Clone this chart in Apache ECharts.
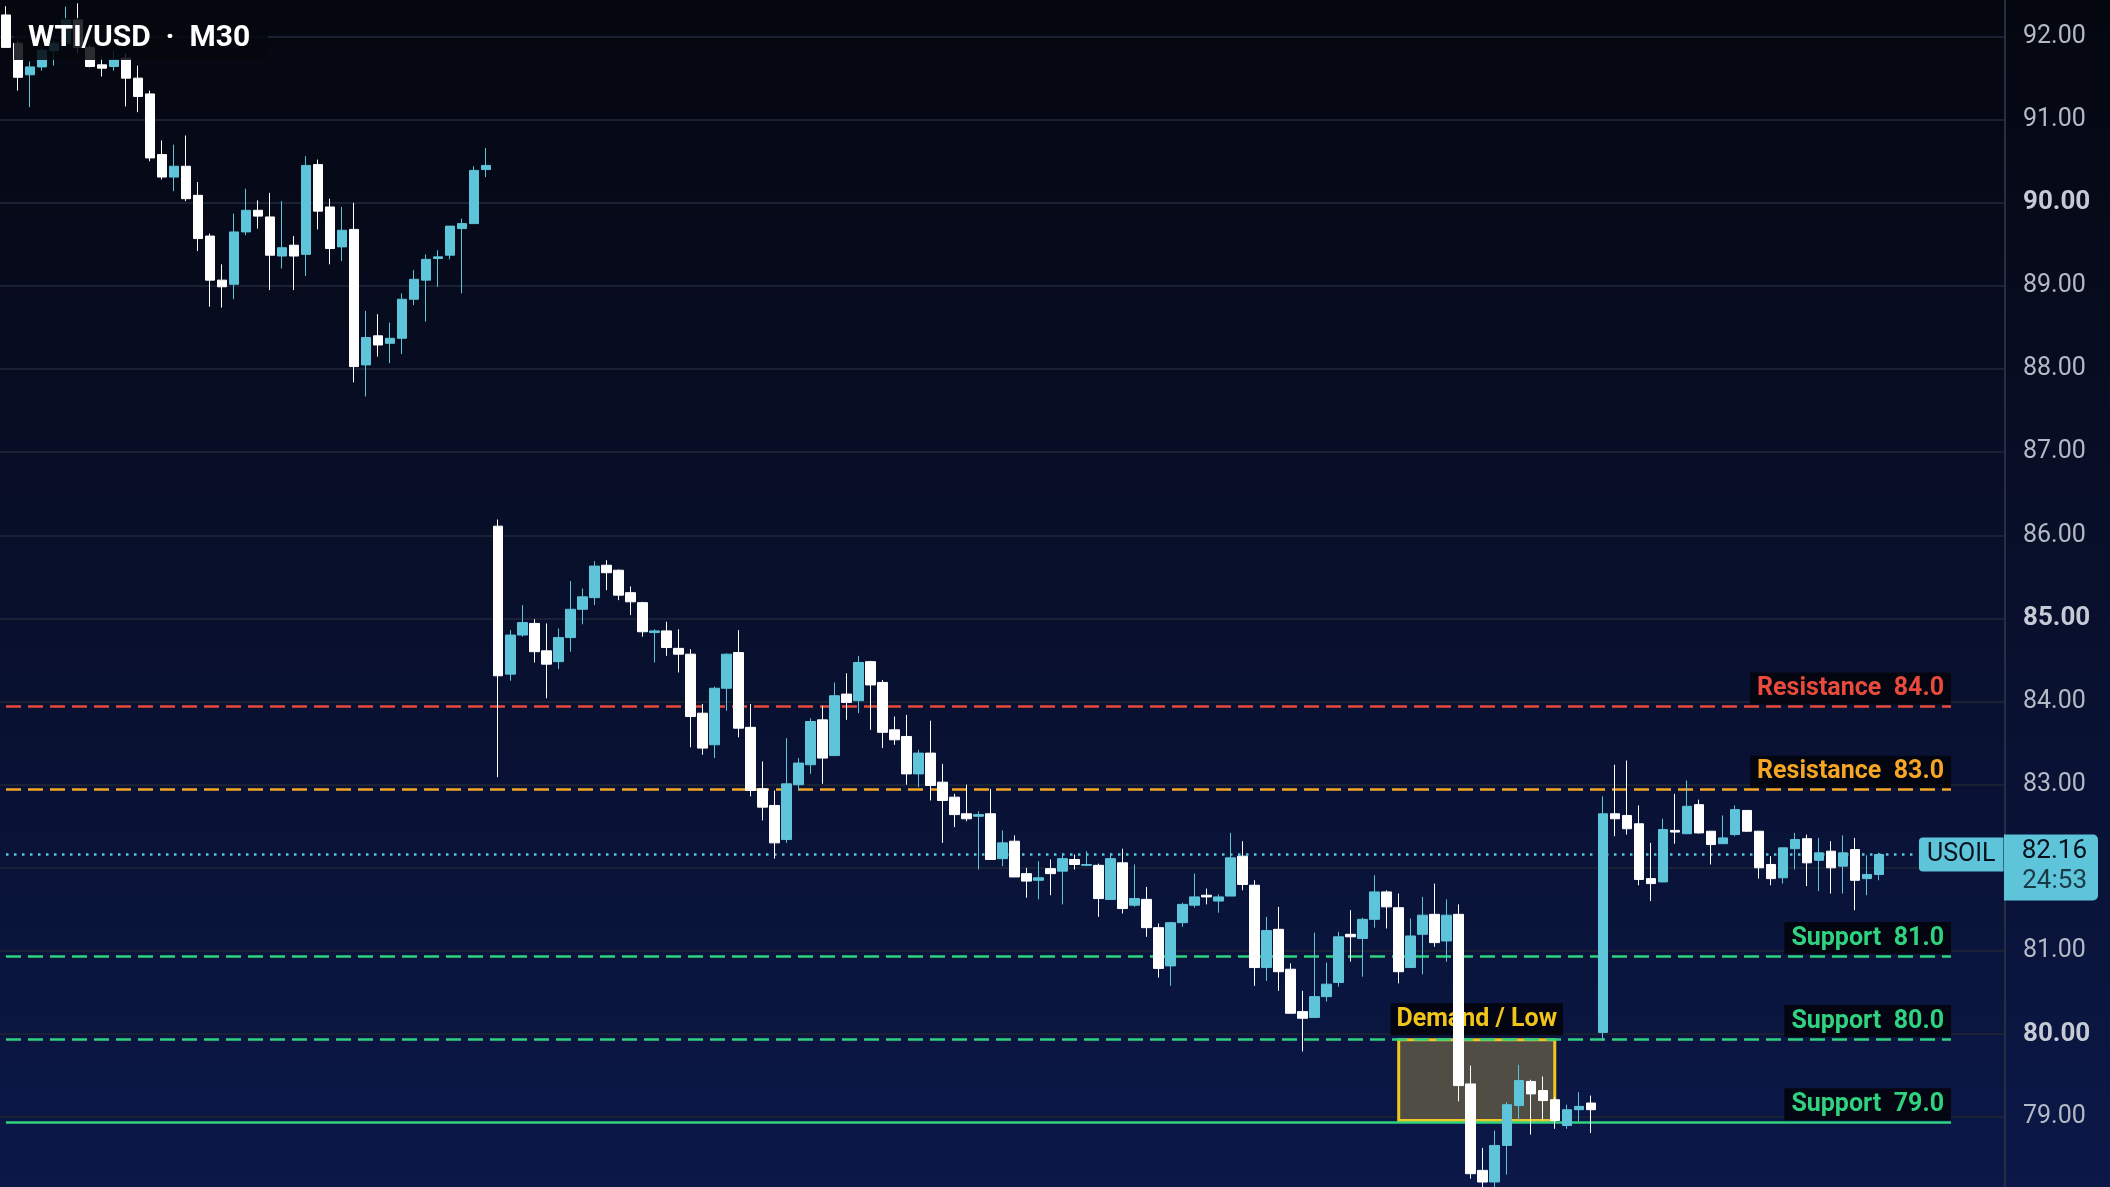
<!DOCTYPE html>
<html><head><meta charset="utf-8">
<style>html,body{margin:0;padding:0;background:#05070f}#c{width:2110px;height:1187px}</style>
<script src="https://cdn.jsdelivr.net/npm/echarts@6/dist/echarts.min.js"></script>
</head><body><div id="c"></div>
<script>
const opens  = [92.26,91.92,91.54,91.635,91.83,91.92,92.2,91.87,91.66,91.64,91.74,91.5,91.31,90.58,90.31,90.44,90.09,89.6,89.07,89.02,89.65,89.91,89.83,89.36,89.49,89.38,90.46,89.95,89.47,89.68,88.05,88.4,88.31,88.37,88.84,89.07,89.33,89.37,89.69,89.75,90.40,
86.11,84.33,84.8,84.94,84.61,84.48,84.77,85.11,85.25,85.64,85.58,85.31,85.19,84.83,84.85,84.64,84.57,83.86,83.48,84.16,84.59,83.69,82.95,82.75,82.34,83.0,83.24,83.78,83.35,84.09,84.01,84.48,
84.23,83.66,83.58,83.13,83.38,83.03,82.85,82.65,82.62,82.65,82.11,82.32,81.93,81.85,81.99,81.96,82.1,82.03,82.03,81.62,82.06,81.55,81.62,81.28,80.82,81.34,81.55,81.67,81.6,81.66,82.14,81.79,
80.8,81.26,80.78,80.27,80.2,80.45,80.62,81.2,81.15,81.38,81.71,81.52,80.8,81.2,81.44,81.12,81.44,79.4,78.36,78.22,78.66,79.14,79.43,79.32,79.21,78.9,79.09,79.17,
80.02,82.65,82.63,82.53,81.87,81.83,82.45,82.41,82.76,82.44,82.29,82.4,82.69,82.44,82.04,81.88,82.23,82.35,82.09,82.2,82.02,82.22,81.87,81.92];
const closes = [91.87,91.51,91.635,91.835,91.92,92.2,91.87,91.64,91.62,91.72,91.5,91.28,90.54,90.31,90.44,90.05,89.57,89.07,88.99,89.65,89.91,89.84,89.37,89.46,89.36,90.45,89.9,89.45,89.67,88.03,88.38,88.29,88.37,88.84,89.08,89.32,89.35,89.72,89.75,90.39,90.45,
84.31,84.8,84.95,84.6,84.45,84.77,85.11,85.26,85.63,85.55,85.28,85.2,84.84,84.85,84.65,84.57,83.82,83.44,84.16,84.57,83.68,82.93,82.73,82.3,83.01,83.26,83.76,83.32,84.07,83.99,84.47,84.2,
83.63,83.54,83.13,83.38,82.99,82.81,82.64,82.59,82.64,82.1,82.3,81.89,81.84,81.88,81.93,82.11,82.04,82.04,81.63,82.11,81.51,81.63,81.28,80.79,81.34,81.56,81.65,81.65,81.65,82.12,81.8,80.8,
81.245,80.75,80.25,80.19,80.45,80.6,81.17,81.17,81.38,81.71,81.53,80.75,81.18,81.43,81.1,81.43,79.38,78.32,78.22,78.66,79.15,79.44,79.28,79.2,78.96,79.09,79.13,79.09,
82.65,82.59,82.47,81.86,81.81,82.46,82.43,82.74,82.42,82.28,82.36,82.7,82.44,82.0,81.87,82.24,82.34,82.06,82.18,82.0,82.18,81.85,81.92,82.16];
const lows   = [91.87,91.35,91.15,91.59,91.65,91.88,91.8,91.63,91.52,91.59,91.16,91.09,90.5,90.28,90.14,90.02,89.42,88.75,88.74,88.84,89.61,89.69,88.95,89.21,88.95,89.12,89.68,89.26,89.3,87.84,87.67,88.15,88.07,88.18,88.77,88.57,88.99,89.32,88.91,89.75,90.31,
83.09,84.25,84.78,84.47,84.04,84.39,84.6,84.93,85.16,85.34,85.22,85.04,84.78,84.47,84.55,84.35,83.45,83.36,83.32,83.89,83.57,82.86,82.57,82.11,82.3,82.93,83.13,83.01,83.35,83.78,83.86,83.66,
83.44,83.48,83.0,82.97,82.81,82.3,82.49,82.56,81.98,82.1,82.02,81.89,81.64,81.62,81.67,81.56,81.98,82.02,81.41,81.62,81.45,81.53,81.17,80.68,80.58,81.29,81.52,81.56,81.46,81.66,81.73,80.58,
80.64,80.52,80.25,79.79,80.2,80.39,80.57,80.87,80.69,81.28,81.27,80.61,80.8,80.72,81.05,80.87,79.19,78.26,78.15,78.15,78.31,78.96,78.79,78.96,78.86,78.86,78.95,78.81,
79.92,82.38,82.4,81.79,81.6,81.83,82.29,82.41,82.41,82.04,82.29,82.38,82.43,81.87,81.79,81.81,81.98,81.78,81.72,81.69,81.69,81.49,81.67,81.85];
const highs  = [92.365,91.95,91.70,91.87,91.95,92.36,92.4,91.9,91.75,91.83,91.8,91.65,91.35,90.75,90.7,90.81,90.25,89.63,89.26,89.87,90.17,90.03,90.12,90.02,89.6,90.56,90.52,90.05,89.95,90.0,88.7,88.66,88.56,88.91,89.19,89.38,89.43,89.72,89.81,90.44,90.66,
86.19,84.86,85.16,84.99,84.94,84.88,85.45,85.36,85.69,85.7,85.59,85.385,85.2,84.87,84.96,84.87,84.63,83.97,84.18,84.58,84.86,83.97,83.28,82.93,83.56,83.32,83.8,83.95,84.23,84.34,84.55,84.49,
84.26,83.82,83.84,83.42,83.77,83.25,82.89,83.0,82.68,82.95,82.45,82.39,82.0,82.08,82.1,82.18,82.16,82.2,82.05,82.18,82.23,82.04,81.77,81.33,81.35,81.58,81.93,81.75,81.68,82.42,82.32,81.85,
81.41,81.53,80.85,80.52,81.22,80.86,81.23,81.49,81.4,81.91,81.73,81.69,81.39,81.65,81.81,81.62,81.56,79.62,78.63,78.84,79.18,79.63,79.45,79.49,79.24,79.15,79.3,79.26,
82.86,83.24,83.29,82.75,82.3,82.59,82.89,83.05,82.82,82.44,82.63,82.75,82.69,82.44,82.14,82.24,82.42,82.4,82.36,82.32,82.39,82.36,82.15,82.18];
const slotCount = 167;
const categories = Array.from({length: slotCount}, (_, i) => String(i));
const tickValues = [79, 80, 81, 82, 83, 84, 85, 86, 87, 88, 89, 90, 91, 92];
const levels = [
  {v:84, name:'Resistance', color:'#ea4a3c', type:[15,7]},
  {v:83, name:'Resistance', color:'#f6a623', type:[15,7]},
  {v:81, name:'Support', color:'#2fd37f', type:[15,7]},
  {v:80, name:'Support', color:'#2fd37f', type:[15,7]},
  {v:79, name:'Support', color:'#2fd37f', type:'solid'}
];
const lastPrice = 82.16;
const countdown = '24:53';
const boldTicks = [80, 85, 90];

const ohlc = opens.map((o, i) => [o, closes[i], lows[i], highs[i]]);
const chart = echarts.init(document.getElementById('c'));
const lineEnd = 162;
const drawOffset = 0.06;
const lvlLines = levels.map(l => [
  {coord:[0, l.v - drawOffset], lineStyle:{color:l.color, type:l.type, width:2.5}},
  {coord:[lineEnd, l.v - drawOffset], label:{show:true, position:'insideEndTop', distance:[0,2], formatter:l.name + '  ' + l.v.toFixed(1),
    color:l.color, fontSize:25, fontWeight:'bold', fontFamily:'Roboto, sans-serif', backgroundColor:'rgba(3,5,14,0.92)', padding:[4,7,3,7]}}
]);
const box = [[{coord:[116, 79.93]}, {coord:[129, 78.96]}]];
chart.setOption({
  animation:false,
  backgroundColor:{type:'linear', x:0, y:0, x2:0, y2:1, colorStops:[{offset:0,color:'#05070f'},{offset:1,color:'#0b1848'}]},
  grid:{left:0, right:105, top:0, bottom:0},
  xAxis:{type:'category', data:categories, boundaryGap:true, axisLine:{show:false}, axisTick:{show:false}, axisLabel:{show:false}, splitLine:{show:false}},
  yAxis:{type:'value', position:'right', min:78.16, max:92.44,
    axisLine:{show:true, lineStyle:{color:'#262e44', width:2}},
    axisTick:{show:false, customValues:tickValues},
    splitLine:{show:true, lineStyle:{color:'#1a2134', width:2}},
    axisLabel:{customValues:tickValues, margin:18, fontSize:25, color:'#b4b9c6', fontFamily:'Roboto, sans-serif',
      formatter:v => boldTicks.includes(v) ? '{b|' + v.toFixed(2) + '}' : v.toFixed(2),
      rich:{b:{fontSize:26, fontWeight:'bold', color:'#c6cad4', fontFamily:'Roboto, sans-serif'}}}},
  series:[
    {type:'candlestick', data:ohlc, barWidth:10, z:3,
      itemStyle:{color:'#5ec4d9', color0:'#ffffff', borderColor:'#5ec4d9', borderColor0:'#ffffff', borderWidth:1},
      markLine:{symbol:'none', silent:true, z:2, data:lvlLines.concat([[
        {coord:[0, lastPrice], lineStyle:{color:'#5ec4d9', type:[2.5,5.5], width:2.5}},
        {coord:[158.7, lastPrice], label:{show:true, position:'end', distance:4, formatter:'USOIL', color:'#07101c', fontSize:25,
          fontFamily:'Roboto, sans-serif', backgroundColor:'#5ec4d9', padding:[5,8,4,8], borderRadius:[4,0,0,4]}}
      ]])},
      markArea:{silent:true, itemStyle:{color:'rgba(58,58,58,0.95)', borderColor:'#f0c419', borderWidth:3},
        label:{show:true, position:'top', distance:3, formatter:'Demand / Low', color:'#f0c419', fontSize:25, fontWeight:'bold',
          fontFamily:'Roboto, sans-serif', backgroundColor:'rgba(3,5,14,0.92)', padding:[4,6,3,6]},
        data:box}
    },
    {type:'line', data:[], z:5, markArea:{silent:true, itemStyle:{color:'rgba(255,225,150,0.13)'}, data:box}}
  ]
});
const py = chart.convertToPixel({yAxisIndex:0}, lastPrice);
chart.setOption({graphic:[
  {type:'rect', z:100, left:14, top:18, shape:{width:254,height:42}, style:{fill:'rgba(5,7,14,0.85)'}},
  {type:'text', z:101, left:28, top:23, style:{text:'WTI/USD  ·  M30', fill:'#ffffff', font:'bold 30px Roboto, sans-serif'}},
  {type:'rect', z:100, x:2004, y:py - 20, shape:{x:0,y:0,width:94,height:66,r:[0,5,5,0]}, style:{fill:'#5ec4d9'}},
  {type:'text', z:101, x:2087, y:py - 16, style:{text:lastPrice.toFixed(2), fill:'#07101c', font:'26px Roboto, sans-serif', align:'right'}},
  {type:'text', z:101, x:2087, y:py + 14, style:{text:countdown, fill:'#1a3a48', font:'26px Roboto, sans-serif', align:'right'}}
]});
</script></body></html>
